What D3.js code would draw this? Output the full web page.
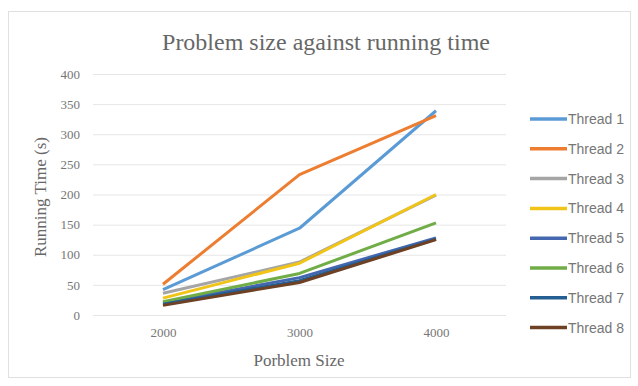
<!DOCTYPE html>
<html>
<head>
<meta charset="utf-8">
<script src="https://cdn.jsdelivr.net/npm/d3@7"></script>
<style>
  body { margin: 0; background: #fff; }
  .grid line { stroke: #e6e6e6; stroke-width: 1; }
  .grid path { display: none; }
  .axis text { fill: #767676; font-family: "Liberation Serif", serif; font-size: 13px; }
  .axis path, .axis line { display: none; }
</style>
</head>
<body>
<div id="chart"></div>
<script>
// chart data
var sizes = ["2000", "3000", "4000"];
var threadNames = ["Thread 1", "Thread 2", "Thread 3", "Thread 4", "Thread 5", "Thread 6", "Thread 7", "Thread 8"];
var thread1 = [42, 144, 339];
var thread2 = [51, 233, 331];
var thread3 = [36, 88, 199];
var thread4 = [28, 86, 200];
var thread5 = [20, 62, 128];
var thread6 = [22, 69, 153];
var thread7 = [18, 57, 126];
var thread8 = [16, 54, 125];
var yTicks = [0, 50, 100, 150, 200, 250, 300, 350, 400];
var colors = ["#5b9bd5", "#ed7d31", "#a5a5a5", "#f0c419", "#4467b0", "#70ad47", "#255e91", "#6e4024"];

function init() {
    var w = 638, h = 386;
    var series = [thread1, thread2, thread3, thread4, thread5, thread6, thread7, thread8];

    var svg = d3.select("#chart").append("svg")
        .attr("width", w)
        .attr("height", h);

    // outer chart border
    svg.append("rect")
        .attr("x", 8.5).attr("y", 11.5)
        .attr("width", 622).attr("height", 366)
        .attr("fill", "#fff")
        .attr("stroke", "#e0e0e0");

    // scales
    var xScale = d3.scalePoint()
        .domain(sizes)
        .range([163, 436]);
    var yScale = d3.scaleLinear()
        .domain([0, 400])
        .range([315, 74]);

    // gridlines
    svg.append("g")
        .attr("class", "grid")
        .attr("transform", "translate(93,0)")
        .call(d3.axisLeft(yScale).tickValues(yTicks).tickSize(-413).tickFormat(""));

    // axes (labels only)
    svg.append("g")
        .attr("class", "axis")
        .attr("transform", "translate(80,0)")
        .call(d3.axisLeft(yScale).tickValues(yTicks).tickSize(0).tickPadding(0));
    svg.append("g")
        .attr("class", "axis")
        .attr("transform", "translate(0,328)")
        .call(d3.axisBottom(xScale).tickSize(0).tickPadding(0));

    // lines
    var line = d3.line()
        .x(function(d, i) { return xScale(sizes[i]); })
        .y(function(d) { return yScale(d); });

    svg.selectAll(".series")
        .data(series)
        .enter()
        .append("path")
        .attr("class", "series")
        .attr("d", line)
        .attr("fill", "none")
        .attr("stroke", function(d, i) { return colors[i]; })
        .attr("stroke-width", 3)
        .attr("stroke-linejoin", "round");

    // title
    svg.append("text")
        .attr("x", 326)
        .attr("y", 50)
        .attr("text-anchor", "middle")
        .style("font-family", "Liberation Serif, serif")
        .style("font-size", "24px")
        .style("fill", "#676767")
        .text("Problem size against running time");

    // axis titles
    svg.append("text")
        .attr("x", 299)
        .attr("y", 366)
        .attr("text-anchor", "middle")
        .style("font-family", "Liberation Serif, serif")
        .style("font-size", "17px")
        .style("fill", "#676767")
        .text("Porblem Size");

    svg.append("text")
        .attr("transform", "translate(46,197) rotate(-90)")
        .attr("text-anchor", "middle")
        .style("font-family", "Liberation Serif, serif")
        .style("font-size", "17px")
        .style("fill", "#676767")
        .text("Running Time (s)");

    // legend
    var legend = svg.selectAll(".legend")
        .data(threadNames)
        .enter()
        .append("g")
        .attr("class", "legend")
        .attr("transform", function(d, i) { return "translate(0," + (119 + i * 29.8) + ")"; });

    legend.append("line")
        .attr("x1", 530).attr("x2", 567)
        .attr("y1", 0).attr("y2", 0)
        .attr("stroke", function(d, i) { return colors[i]; })
        .attr("stroke-width", 3.5);

    legend.append("text")
        .attr("x", 568)
        .attr("y", 0)
        .attr("dy", "0.35em")
        .style("font-family", "Liberation Sans, sans-serif")
        .style("font-size", "14px")
        .style("fill", "#767676")
        .text(function(d) { return d; });
}
window.onload = init;
</script>
</body>
</html>
